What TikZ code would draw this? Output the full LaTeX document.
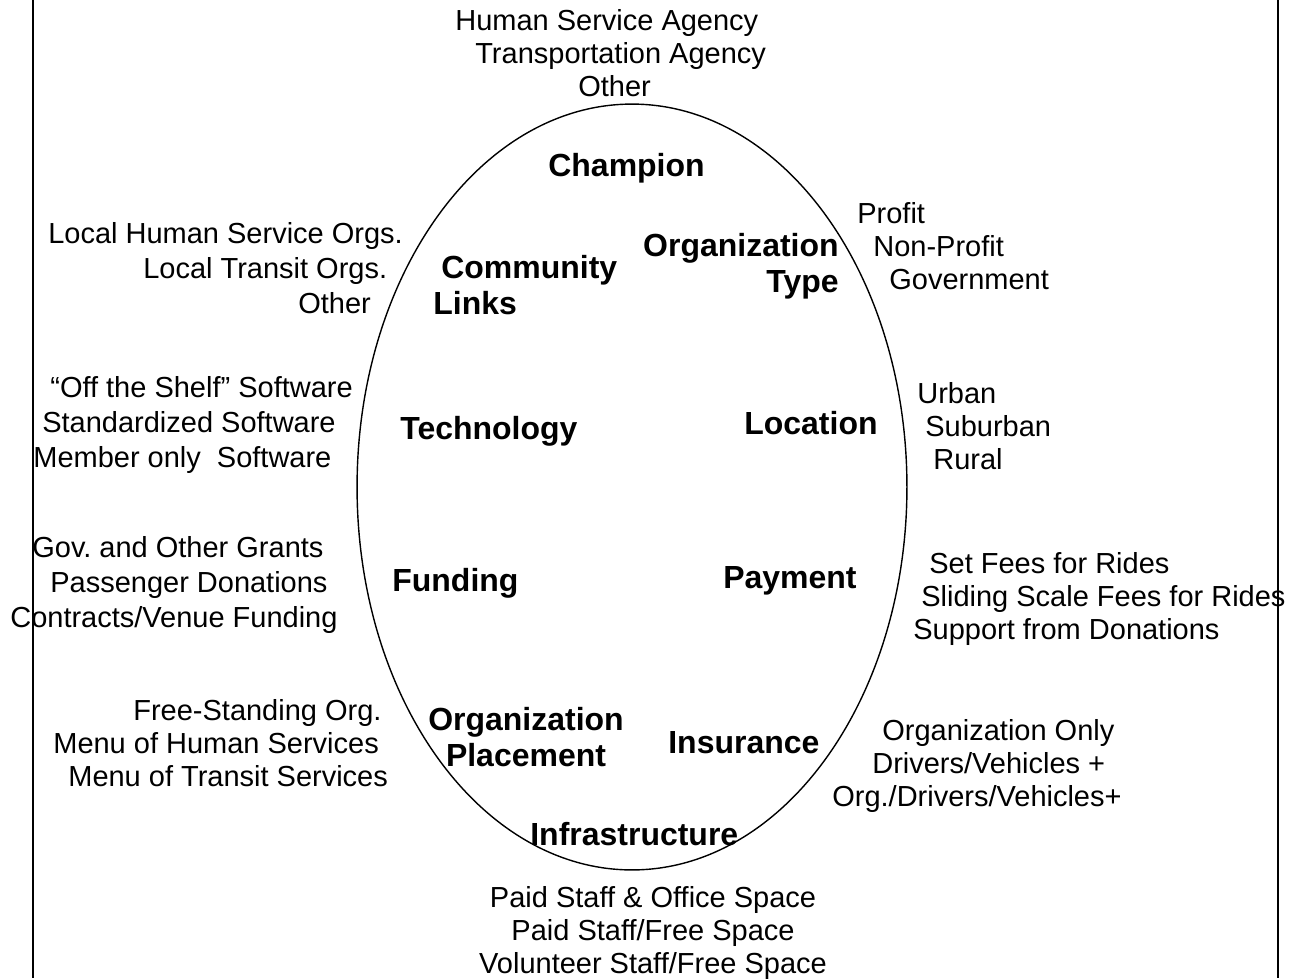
\documentclass[tikz,border=0pt]{standalone}
\usepackage{fontspec}
\setmainfont{Liberation Sans}
\usetikzlibrary{positioning}

% one unit of the picture
\newlength{\pxlen}
\setlength{\pxlen}{0.02cm}
\newcommand{\pushin}[1]{\hspace*{#1\pxlen}}

\begin{document}
\frenchspacing
\begin{tikzpicture}[
        x=0.02cm, y=-0.02cm,
        item/.style={
            inner sep=0pt,
            align=left,
            font=\fontsize{16.5}{19.9}\selectfont\frenchspacing
        },
        tight/.style={
            font=\fontsize{16.5}{18.8}\selectfont\frenchspacing
        },
        factor/.style={
            inner sep=0pt,
            font=\fontsize{18.2}{20.5}\selectfont\bfseries
        },
        rule/.style={
            line width=1.1pt
        },
        ring/.style={
            line width=0.8pt
        }
    ]
    \useasboundingbox (0,0) rectangle (1298,978);
    % Side rules
    \draw[rule] (33,0) -- (33,978);
    \draw[rule] (1278,0) -- (1278,978);
    % The oval
    \draw[ring] (632,487) ellipse [x radius=5.5cm, y radius=7.66cm];

    % Factors inside the oval
    \node[factor, anchor=base west] (champion) at (548,176.5) {Champion};
    \node[factor, anchor=north west, align=left] (links) at (433,255) {\pushin{8}Community\\Links};
    \node[factor, anchor=north east, align=right] (orgtype) at (839,233) {Organization\\Type};
    \node[factor, anchor=base west] (tech) at (400,439) {Technology};
    \node[factor, anchor=base west] (location) at (744,434.5) {Location};
    \node[factor, anchor=base west] (funding) at (392,591) {Funding};
    \node[factor, anchor=base west] (payment) at (723,588) {Payment};
    \node[factor, anchor=north, align=center] (placement) at (526,707) {Organization\\Placement};
    \node[factor, anchor=base west] (insurance) at (668,753) {Insurance};
    \node[factor, anchor=base west] (infra) at (530,845) {Infrastructure};

    % Options around the oval
    \node[item, tight, anchor=north west] (champion_opts) at (455,9.5) {
        Human Service Agency\\
        \pushin{20}Transportation Agency\\
        \pushin{123}Other};
    \node[item, anchor=north west] (links_opts) at (48,222.5) {
        Local Human Service Orgs.\\
        \pushin{95}Local Transit Orgs.\\
        \pushin{250}Other};
    \node[item, tight, anchor=north west] (orgtype_opts) at (857,202.5) {
        Profit\\
        \pushin{16}Non-Profit\\
        \pushin{32}Government};
    \node[item, anchor=north west] (tech_opts) at (33,376.5) {
        \pushin{17}``Off the Shelf'' Software\\
        \pushin{9}Standardized Software\\
        Member only\ \ Software};
    \node[item, tight, anchor=north west] (location_opts) at (917,382.5) {
        Urban\\
        \pushin{8}Suburban\\
        \pushin{16}Rural};
    \node[item, anchor=north west] (funding_opts) at (10,536.5) {
        \pushin{22}Gov. and Other Grants\\
        \pushin{40}Passenger Donations\\
        Contracts/Venue Funding};
    \node[item, tight, anchor=north west] (payment_opts) at (913,552.5) {
        \pushin{16}Set Fees for Rides\\
        \pushin{8}Sliding Scale Fees for Rides\\
        Support from Donations};
    \node[item, tight, anchor=north west] (placement_opts) at (53,699.5) {
        \pushin{80}Free-Standing Org.\\
        Menu of Human Services\\
        \pushin{15}Menu of Transit Services};
    \node[item, tight, anchor=north west] (insurance_opts) at (832,719.5) {
        \pushin{50}Organization Only\\
        \pushin{40}Drivers/Vehicles +\\
        Org./Drivers/Vehicles+};
    \node[item, tight, anchor=north, align=center] (infra_opts) at (653,886.5) {
        Paid Staff \& Office Space\\
        Paid Staff/Free Space\\
        Volunteer Staff/Free Space};
\end{tikzpicture}
\end{document}
